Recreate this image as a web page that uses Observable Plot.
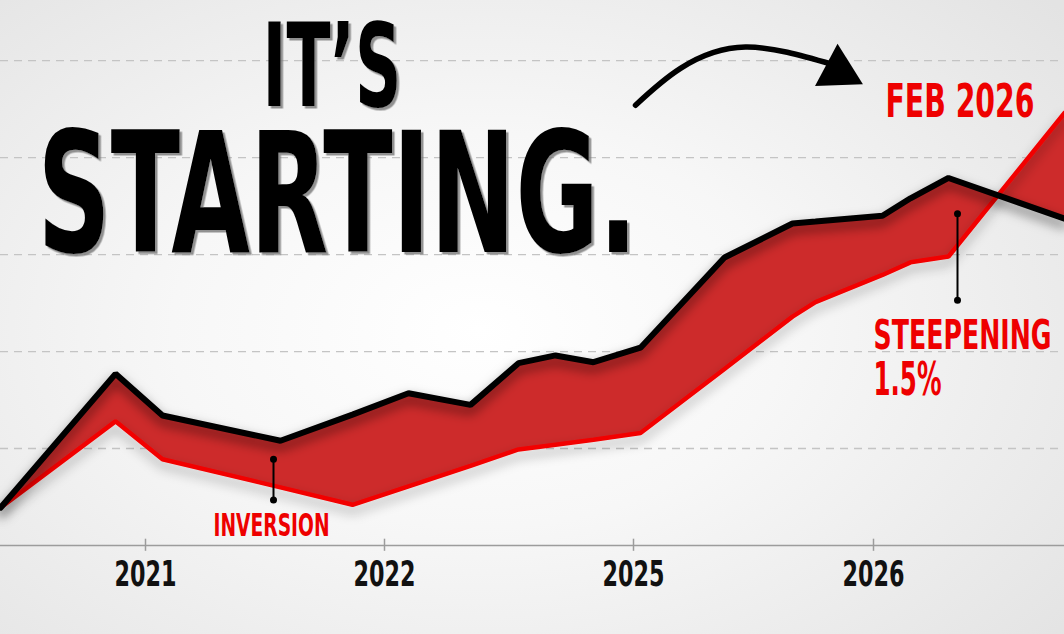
<!DOCTYPE html>
<html><head><meta charset="utf-8">
<script src="https://cdn.jsdelivr.net/npm/d3@7"></script>
<script src="https://cdn.jsdelivr.net/npm/@observablehq/plot@0.6"></script>
<style>
html,body{margin:0;padding:0;}
body{width:1064px;height:634px;overflow:hidden;
  background:radial-gradient(ellipse 72% 78% at 45% 52%, #ffffff 0%, #f7f7f7 40%, #e3e3e3 100%);}
#chart svg{display:block;}
</style></head><body><div id="chart"></div>
<script>
// x = months along the (stylised) time axis, y = rate level in grid units
const months    = [0, 5.75, 8.1, 14, 17.6, 20.4, 23.5, 25.9, 27.75, 29.65, 32, 36.2, 39.6, 40.75, 44.1, 45.5, 47.4, 53.2];
const longRate  = [0.39, 1.77, 1.34, 1.08, 1.35, 1.57, 1.45, 1.88, 1.96, 1.89, 2.04, 2.97, 3.32, 3.34, 3.40, 3.58, 3.79, 3.37];
const shortRate = [0.39, 1.28, 0.89, 0.60, 0.42, 0.61, 0.82, 0.99, 1.04, 1.09, 1.16, 1.82, 2.36, 2.51, 2.79, 2.92, 2.98, 4.46];
const tickMonths = [7.25, 19.2, 31.65, 43.65];
const tickLabels = ["2021", "2022", "2025", "2026"];
const gridLevels = [1, 2, 3, 4, 5];
// annotation anchors (data units)
const arrowMonths = [31.75, 34.0, 37.25, 41.6];
const arrowValues = [4.54, 4.92, 5.14, 4.96];
const arrowHead = [{month: 41.9, value: 4.89}];
const titleNotes = [
  {text: "IT\u2019S", month: 13.1, value: 4.53},
  {text: "STARTING.", month: 1.85, value: 3.03}
];
const redNotes = [
  {text: "FEB 2026", month: 44.25, value: 4.42},
  {text: "STEEPENING", month: 43.65, value: 2.03},
  {text: "1.5%", month: 43.65, value: 1.55},
  {text: "INVERSION", month: 10.65, value: 0.10}
];
const leaders = [
  {month: 13.65, top: 0.89, bottom: 0.47},
  {month: 47.85, top: 3.42, bottom: 2.53}
];

const table = months.map((m, i) => ({m, long: longRate[i], short: shortRate[i]}));
const tickTable = tickMonths.map((m, i) => ({m, label: tickLabels[i]}));
const leaderDots = leaders.flatMap(d => [{month: d.month, value: d.top}, {month: d.month, value: d.bottom}]);
const arrowTable = arrowMonths.map((m, i) => ({m, v: arrowValues[i]}));

const FONT = "'Liberation Sans Narrow', 'DejaVu Sans Condensed', 'Arial Narrow', sans-serif";
const sizes = {"IT\u2019S": [116, 139], "STARTING.": [168, 600], "FEB 2026": [46, 149], "STEEPENING": [40, 178], "1.5%": [46, 68], "INVERSION": [32, 116]};

// post-render hook on a mark's group
function tweak(mark, fn) {
  const render = mark.render;
  mark.render = function(...args) {
    const g = render.apply(this, args);
    if (g) fn(d3.select(g));
    return g;
  };
  return mark;
}
const fit = (g) => g.selectAll("text").each(function() {
  const t = this.textContent;
  const w = sizes[t] ? sizes[t][1] : 62;
  d3.select(this).attr("textLength", w).attr("lengthAdjust", "spacingAndGlyphs");
});

const noteMark = (d, color, shadow) => tweak(Plot.text([d], {
  x: "month", y: "value", text: "text", textAnchor: "start", lineAnchor: "bottom",
  fontSize: sizes[d.text][0], fontWeight: "bold", fill: color, fontFamily: FONT
}), g => { fit(g); if (shadow) g.attr("filter", "url(#textShadow)"); });

const defs = () => {
  const g = d3.create("svg:defs");
  const mk = (id, dx, dy, sd, color, op) => {
    const f = g.append("filter").attr("id", id).attr("filterUnits", "userSpaceOnUse")
      .attr("x", -20).attr("y", -20).attr("width", 1110).attr("height", 680);
    f.append("feDropShadow").attr("dx", dx).attr("dy", dy).attr("stdDeviation", sd)
      .attr("flood-color", color).attr("flood-opacity", op);
  };
  mk("blackShadow", 0, 6, 6, "#000", 0.55);
  mk("redShadow", 0, 6, 6, "#000", 0.35);
  mk("textShadow", 2.5, 2.5, 0.6, "#777", 0.8);
  return g.node();
};

const chart = Plot.plot({
  width: 1064, height: 634,
  marginTop: 0, marginRight: 0, marginLeft: 0, marginBottom: 89,
  style: {background: "transparent", overflow: "visible"},
  x: {domain: [0, 53.2], axis: null},
  y: {domain: [0, 5.62], axis: null},
  marks: [
    defs,
    Plot.ruleY(gridLevels, {stroke: "#c4c4c4", strokeWidth: 1.3, strokeDasharray: "8,6"}),
    Plot.ruleY([0], {stroke: "#9c9c9c", strokeWidth: 1.5}),
    Plot.ruleX(tickTable, {x: "m", y1: -0.06, y2: 0.065, stroke: "#9c9c9c", strokeWidth: 1.5}),
    tweak(Plot.text(tickTable, {x: "m", y: -0.42, text: "label", lineAnchor: "bottom", fontSize: 36, fontWeight: "bold", fill: "#111", fontFamily: FONT}), fit),
    Plot.areaY(table, {x: "m", y1: "short", y2: "long", fill: "#cd2b2b"}),
    tweak(Plot.lineY(table, {x: "m", y: "short", stroke: "#f20000", strokeWidth: 4.5, strokeLinejoin: "miter"}), g => g.attr("filter", "url(#redShadow)")),
    tweak(Plot.lineY(table, {x: "m", y: "long", stroke: "#000", strokeWidth: 6, strokeLinejoin: "miter"}), g => g.attr("filter", "url(#blackShadow)")),
    Plot.ruleX(leaders, {x: "month", y1: "bottom", y2: "top", stroke: "#000", strokeWidth: 2}),
    Plot.dot(leaderDots, {x: "month", y: "value", r: 3.5, fill: "#000"}),
    Plot.line(arrowTable, {x: "m", y: "v", curve: "natural", stroke: "#000", strokeWidth: 5.5, strokeLinecap: "round"}),
    Plot.dot(arrowHead, {x: "month", y: "value", symbol: "triangle", r: 17.8, rotate: -2, fill: "#000"}),
    ...titleNotes.map(d => noteMark(d, "#000", true)),
    ...redNotes.map(d => noteMark(d, "#ee0000", false))
  ]
});

document.getElementById("chart").appendChild(chart);
</script>
</body></html>
